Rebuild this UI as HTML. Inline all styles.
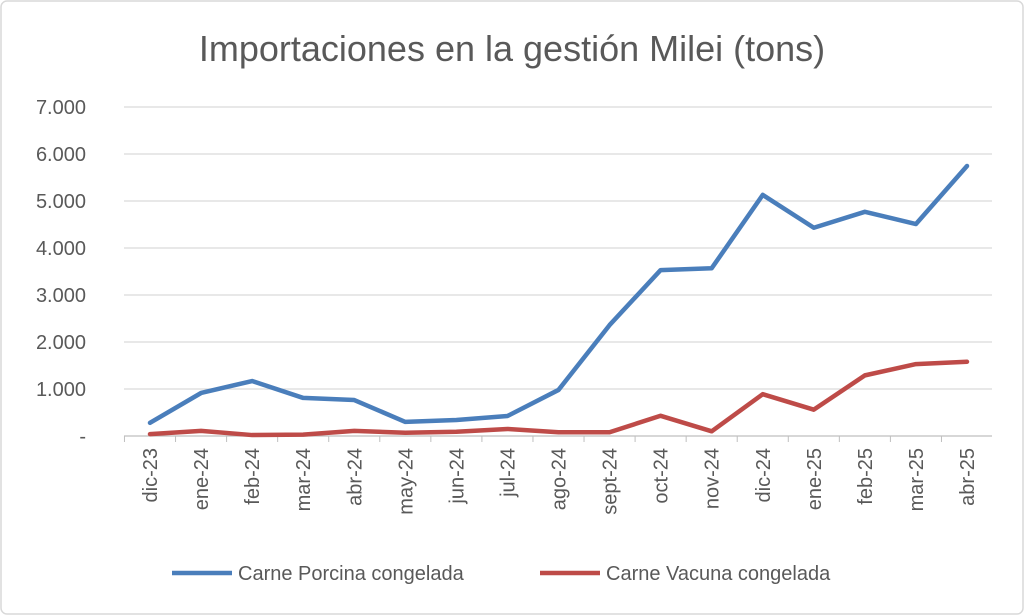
<!DOCTYPE html>
<html><head><meta charset="utf-8"><style>
html,body{margin:0;padding:0;background:#fff}
svg{display:block;font-family:"Liberation Sans",sans-serif}
</style></head><body>
<svg width="1024" height="615" viewBox="0 0 1024 615">
<rect x="1" y="1" width="1022" height="613" rx="6" fill="#fff" stroke="#d9d9d9" stroke-width="1.5"/>
<text x="512" y="61" text-anchor="middle" font-size="36" fill="#595959">Importaciones en la gestión Milei (tons)</text>
<g id="grid"></g><g id="ylabels"></g><g id="xlabels"></g><g id="series"></g>
<g>
<line x1="172" y1="573" x2="232" y2="573" stroke="#4a7ebb" stroke-width="4.5"/>
<text x="238" y="580" font-size="20" fill="#595959">Carne Porcina congelada</text>
<line x1="540" y1="573" x2="600" y2="573" stroke="#be4b48" stroke-width="4.5"/>
<text x="606" y="580" font-size="20" fill="#595959">Carne Vacuna congelada</text>
</g>
</svg>
<script>
const categories=["dic-23","ene-24","feb-24","mar-24","abr-24","may-24","jun-24","jul-24","ago-24","sept-24","oct-24","nov-24","dic-24","ene-25","feb-25","mar-25","abr-25"];
const porcina=[280,915,1170,810,765,300,340,425,980,2360,3530,3570,5130,4430,4770,4510,5745];
const vacuna=[40,110,20,30,110,70,90,150,80,80,430,100,890,560,1290,1530,1580];
const yTicks=[0,1000,2000,3000,4000,5000,6000,7000];
const yTickLabels=["-","1.000","2.000","3.000","4.000","5.000","6.000","7.000"];
const NS="http://www.w3.org/2000/svg";
const x0=150,x1=967,yb=436,yt=107,ymax=7000;
const xs=i=>x0+i*(x1-x0)/(categories.length-1);
const ys=v=>yb-v*(yb-yt)/ymax;
const g=document.getElementById('grid'),yl=document.getElementById('ylabels'),xl=document.getElementById('xlabels'),sg=document.getElementById('series');
yTicks.forEach((t,i)=>{
 const l=document.createElementNS(NS,'line');
 l.setAttribute('x1',124);l.setAttribute('x2',992);l.setAttribute('y1',ys(t));l.setAttribute('y2',ys(t));
 l.setAttribute('stroke',t===0?'#bfbfbf':'#d9d9d9');l.setAttribute('stroke-width',1.3);
 
 
 g.appendChild(l);
 const tx=document.createElementNS(NS,'text');
 tx.setAttribute('x',86);tx.setAttribute('y',ys(t)+7);tx.setAttribute('text-anchor','end');
 tx.setAttribute('font-size',20);tx.setAttribute('fill','#595959');tx.textContent=yTickLabels[i];
 
 
 yl.appendChild(tx);
});
categories.forEach((c,i)=>{
 const tk=document.createElementNS(NS,'line');
 const xm=x0-(x1-x0)/32+i*(x1-x0)/16;
 tk.setAttribute('x1',xm);tk.setAttribute('x2',xm);tk.setAttribute('y1',436);tk.setAttribute('y2',442);
 tk.setAttribute('stroke','#bfbfbf');
 
 
 g.appendChild(tk);
 const tx=document.createElementNS(NS,'text');
 const x=xs(i)+7,y=448;
 tx.setAttribute('x',x);tx.setAttribute('y',y);tx.setAttribute('text-anchor','end');
 tx.setAttribute('transform','rotate(-90 '+x+' '+y+')');
 tx.setAttribute('font-size',20);tx.setAttribute('fill','#595959');tx.textContent=c;
 
 
 xl.appendChild(tx);
});
function line(data,color,name){
 const p=document.createElementNS(NS,'polyline');
 p.setAttribute('points',data.map((v,i)=>xs(i)+','+ys(v)).join(' '));
 p.setAttribute('fill','none');p.setAttribute('stroke',color);p.setAttribute('stroke-width',4.5);
 p.setAttribute('stroke-linejoin','round');p.setAttribute('stroke-linecap','round');
 
 
 sg.appendChild(p);
}
line(vacuna,'#be4b48','series-vacuna');
line(porcina,'#4a7ebb','series-porcina');
</script>
</body></html>
